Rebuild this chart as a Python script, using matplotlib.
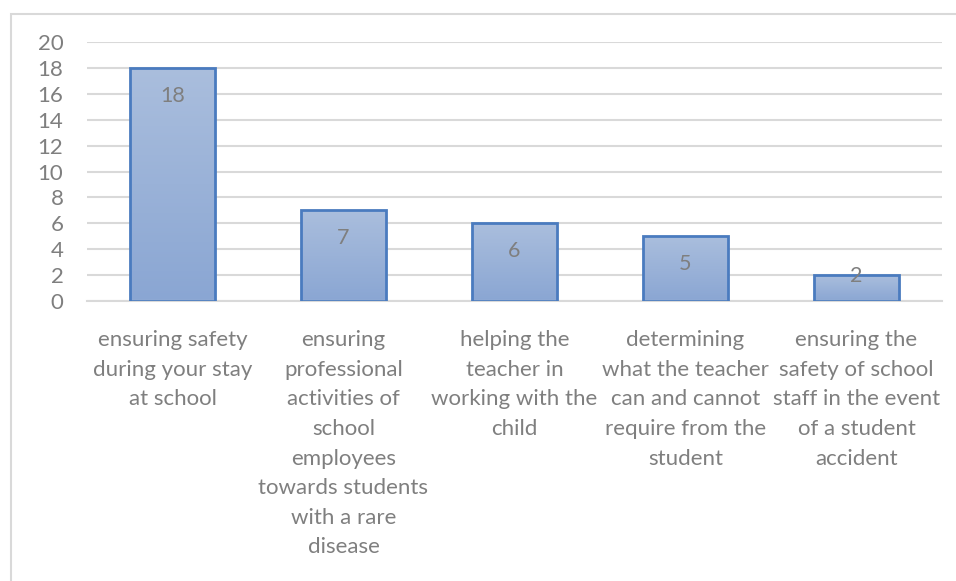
import numpy as np
import matplotlib
matplotlib.use('Agg')
import matplotlib.pyplot as plt
from matplotlib.patches import Rectangle

categories = [
    'ensuring safety\nduring your stay\nat school',
    'ensuring\nprofessional\nactivities of\nschool\nemployees\ntowards students\nwith a rare\ndisease',
    'helping the\nteacher in\nworking with the\nchild',
    'determining\nwhat the teacher\ncan and cannot\nrequire from the\nstudent',
    'ensuring the\nsafety of school\nstaff in the event\nof a student\naccident',
]
counts = [18, 7, 6, 5, 2]
y_ticks = list(range(0, 21, 2))

text_grey = '#7f7f7f'
grid_grey = '#d9d9d9'
edge_blue = '#4a7bbf'

plt.rcParams['font.family'] = ['Lato', 'DejaVu Sans']

fig = plt.figure(figsize=(9.56, 5.81), dpi=100)
ax = fig.add_axes([87 / 956, 1 - 301 / 581, 855 / 956, 259 / 581])

# outer chart border (runs off the right and bottom of the picture)
fig.patches.append(Rectangle((10.5 / 956, -0.1), 1.2, 1 - 13.5 / 581 + 0.1,
                             transform=fig.transFigure, fill=False,
                             edgecolor='#d9d9d9', linewidth=1.5))

x = np.arange(len(counts))
bars = ax.bar(x, counts, width=0.5, color='none', edgecolor=edge_blue,
              linewidth=2, zorder=3)

# vertical gradient fill for each bar
grad = np.linspace(0, 1, 256).reshape(-1, 1)
cmap = matplotlib.colors.LinearSegmentedColormap.from_list(
    'bar', ['#8aa6d3', '#aabedd'])
for b in bars:
    x0, y0 = b.get_x(), b.get_y()
    w, h = b.get_width(), b.get_height()
    im = ax.imshow(grad, cmap=cmap, extent=[x0, x0 + w, y0, y0 + h],
                   origin='lower', aspect='auto', zorder=2)
    im.set_clip_path(b)

for xi, v in zip(x, counts):
    off = -20 if v >= 4 else -1
    ax.annotate(str(v), (xi, v), xytext=(0, off), textcoords='offset points',
                ha='center', va='center', color=text_grey, fontsize=15.5)

ax.set_xlim(-0.5, len(counts) - 0.5)
ax.set_ylim(0, 20)
ax.set_yticks(y_ticks)
ax.set_xticks(x)
ax.set_xticklabels(categories, linespacing=1.6)
ax.tick_params(axis='both', length=0, colors=text_grey, labelsize=16)
ax.tick_params(axis='x', pad=21)
ax.tick_params(axis='y', pad=17)
for lab in ax.get_xticklabels():
    lab.set_verticalalignment('top')

ax.grid(axis='y', color=grid_grey, linewidth=1.5, zorder=0)
ax.set_axisbelow(True)
for s in ['top', 'right', 'left']:
    ax.spines[s].set_visible(False)
ax.spines['bottom'].set_color(grid_grey)
ax.spines['bottom'].set_linewidth(1.5)

fig.savefig('out.png', dpi=100)
